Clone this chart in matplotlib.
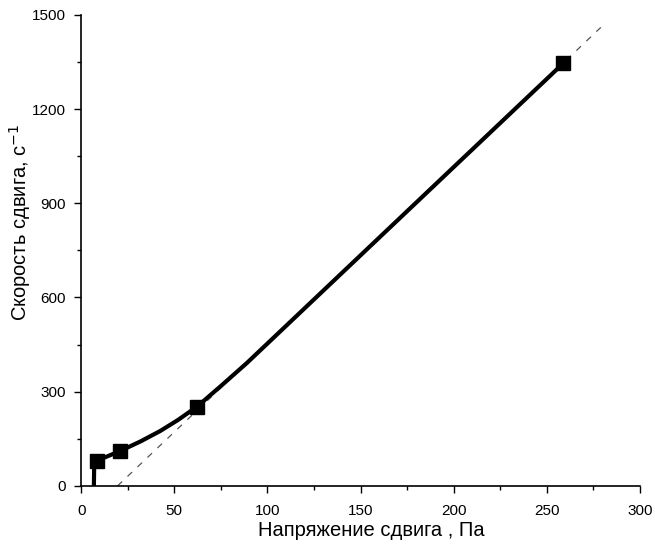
import numpy as np
import matplotlib.pyplot as plt
from matplotlib.ticker import MultipleLocator

plt.rcParams['font.family'] = ['Liberation Sans', 'DejaVu Sans']

# измеренные точки (маркеры)
stress_pts = [8.4, 20.9, 62.1, 258.9]
rate_pts = [80, 111, 252, 1346]

# кривая течения
stress_curve = [6.8, 7.0, 8.4, 20.9, 32, 42.5, 52, 62.1, 75, 88.9, 258.9]
rate_curve = [0, 78, 80, 111, 142, 175, 210, 252, 318, 391, 1346]

# касательная (пунктир)
stress_tan = [19.5, 279]
rate_tan = [0, 1460]

fig = plt.figure(figsize=(6.55, 5.49), dpi=100)
ax = fig.add_axes([0.124, 0.115, 0.853, 0.858])

ax.plot(stress_tan, rate_tan, linestyle=(0, (5, 6)), color='#555555', linewidth=0.9)
ax.plot(stress_curve, rate_curve, color='black', linewidth=3)
ax.plot(stress_pts, rate_pts, linestyle='none', marker='s', markersize=10, color='black')

ax.set_xlim(0, 300)
ax.set_ylim(0, 1500)
ax.xaxis.set_major_locator(MultipleLocator(50))
ax.xaxis.set_minor_locator(MultipleLocator(25))
ax.yaxis.set_major_locator(MultipleLocator(300))
ax.yaxis.set_minor_locator(MultipleLocator(150))
ax.tick_params(which='major', direction='out', length=5, width=1, labelsize=11)
ax.tick_params(axis='x', which='major', pad=8)
ax.tick_params(axis='y', which='major', pad=6)
ax.tick_params(which='minor', direction='out', length=3, width=1)
ax.spines['top'].set_visible(False)
ax.spines['right'].set_visible(False)
for s in ['left', 'bottom']:
    ax.spines[s].set_linewidth(1.2)

ax.set_xlabel('Напряжение сдвига , Па', fontsize=14.5)
ax.set_ylabel('Скорость сдвига, с$^{-1}$', fontsize=14.5)
ax.xaxis.set_label_coords(0.52, -0.075)
ax.yaxis.set_label_coords(-0.087, 0.56)

fig.savefig('out.png', dpi=100)
